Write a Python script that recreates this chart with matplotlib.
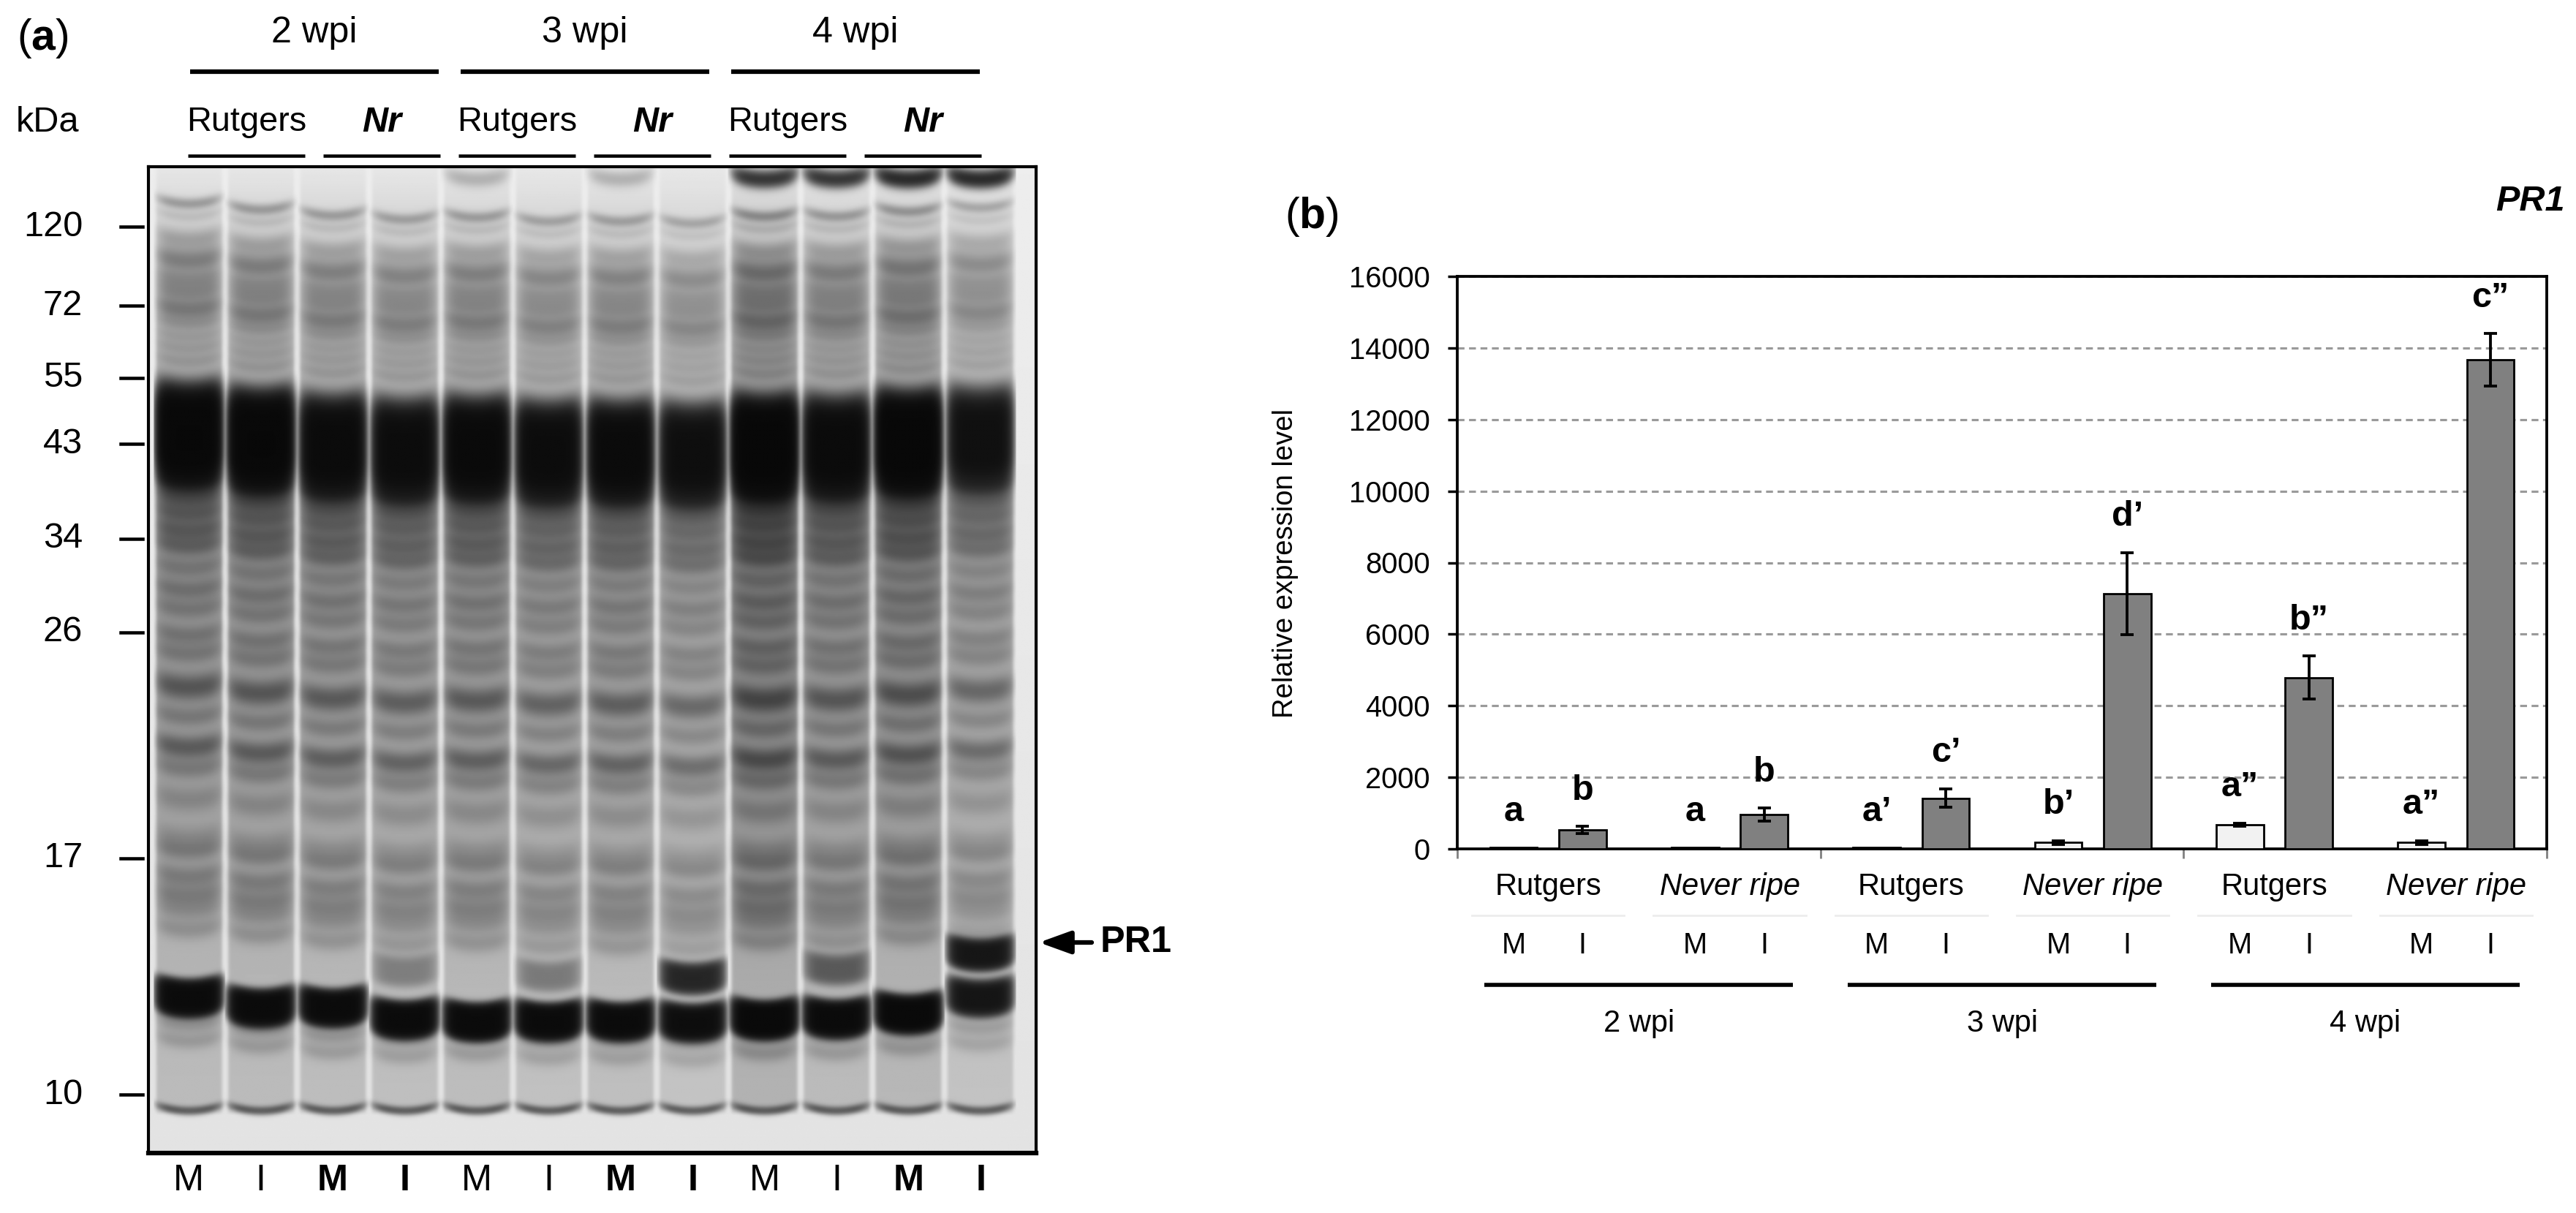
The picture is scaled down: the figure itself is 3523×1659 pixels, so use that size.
"""SDS-PAGE gel (a) and PR1 relative expression (b)."""
import matplotlib
matplotlib.use("Agg")
import matplotlib.pyplot as plt
import matplotlib.transforms as mtransforms
import numpy as np

plt.rcParams.update({
    "font.family": ["Liberation Sans", "DejaVu Sans"],
    "mathtext.fontset": "custom",
    "mathtext.rm": "Liberation Sans",
    "mathtext.bf": "Liberation Sans:bold",
    "mathtext.it": "Liberation Sans:italic",
})

W, H, DPI = 3523, 1659, 250

# ── panel (b) data: PR1 qRT-PCR ─────────────────────────────────────────────
weeks = ["2 wpi", "3 wpi", "4 wpi"]
genotypes = ["Rutgers", "Never ripe"]
treatments = ["M", "I"]
mock_mean = [40, 40, 40, 180, 680, 180]
mock_err = [0, 0, 0, 50, 40, 50]
inf_mean = [530, 960, 1420, 7130, 4790, 13670]
inf_err = [100, 180, 260, 1150, 600, 730]
mock_letters = ["a", "a", "a\u2019", "b\u2019", "a\u201d", "a\u201d"]
inf_letters = ["b", "b", "c\u2019", "d\u2019", "b\u201d", "c\u201d"]
yticks_b = [0, 2000, 4000, 6000, 8000, 10000, 12000, 14000, 16000]

# ── panel (a) data: Coomassie gel ───────────────────────────────────────────
gel_weeks = ["2 wpi", "3 wpi", "4 wpi"]
gel_genotypes = ["Rutgers", "Nr"]
lane_names = ["M", "I"] * 6
lane_bold = [False, False, True, True] * 3
marker_kda = ["120", "72", "55", "43", "34", "26", "17", "10"]
marker_rf = [0.061, 0.141, 0.214, 0.281, 0.377, 0.472, 0.701, 0.941]

# background smear of a loaded lane (relative migration -> darkness)
smear_rf = [0.0, 0.02, 0.06, 0.15, 0.22, 0.35, 0.5, 0.65, 0.75, 0.88, 0.955, 0.962, 1.0]
smear_dark = [0.03, 0.06, 0.13, 0.22, 0.32, 0.45, 0.42, 0.36, 0.28, 0.22, 0.2, 0.0, 0.0]

# bands shared by all lanes: position, strength, sharpness
band_rf = [0.045, 0.058, 0.081, 0.103, 0.120, 0.128, 0.136, 0.152, 0.168, 0.180,
           0.192, 0.205, 0.330, 0.345, 0.360, 0.377, 0.393, 0.415, 0.437, 0.457,
           0.483, 0.502, 0.536, 0.566, 0.597, 0.619, 0.650, 0.690, 0.703, 0.728,
           0.748, 0.763, 0.782, 0.878, 0.895]
band_amp = [0.35, 0.12, 0.25, 0.5, 0.25, 0.28, 0.25, 0.5, 0.18, 0.18,
            0.18, 0.18, 0.6, 0.55, 0.55, 0.55, 0.5, 0.3, 0.35, 0.3,
            0.32, 0.3, 0.65, 0.3, 0.6, 0.3, 0.22, 0.22, 0.28, 0.35,
            0.35, 0.22, 0.22, 0.25, 0.2]
band_sig = [0.004, 0.004, 0.007, 0.009, 0.005, 0.005, 0.005, 0.009, 0.005, 0.005,
            0.005, 0.005, 0.007, 0.007, 0.007, 0.007, 0.007, 0.007, 0.007, 0.007,
            0.007, 0.007, 0.009, 0.007, 0.008, 0.007, 0.009, 0.009, 0.007, 0.008,
            0.008, 0.007, 0.007, 0.006, 0.006]

# lane specific features
lane_load = [1.0, 1.0, 0.95, 0.9, 0.95, 0.85, 0.9, 0.78, 1.25, 1.0, 1.1, 0.8]
lane_shift = [-0.008, -0.002, 0.004, 0.008, 0.006, 0.01, 0.01, 0.012, 0.005, 0.005, 0.0, -0.004]
rbcl_rf = 0.281
rbcl_amp = [4.8, 4.8, 3.8, 3.5, 4.0, 3.5, 3.8, 3.2, 5.2, 3.8, 5.2, 3.0]
ssu_rf = [0.844, 0.854, 0.854, 0.866, 0.868, 0.868, 0.868, 0.869, 0.866, 0.865, 0.860, 0.844]
ssu_amp = [3.8, 3.8, 3.8, 3.8, 3.8, 3.8, 3.8, 3.4, 4.2, 3.8, 4.2, 2.6]
pr1_rf = [0.82, 0.82, 0.82, 0.817, 0.82, 0.822, 0.82, 0.824, 0.82, 0.815, 0.82, 0.80]
pr1_amp = [0.0, 0.0, 0.0, 0.4, 0.0, 0.45, 0.0, 1.8, 0.0, 0.75, 0.0, 2.5]
well_amp = [0.0, 0.0, 0.0, 0.0, 0.25, 0.0, 0.25, 0.0, 1.5, 1.5, 1.8, 1.8]
front_rf = 0.958

fig = plt.figure(figsize=(W / DPI, H / DPI), dpi=DPI)


def fig_box(x0, y0, x1, y1):
    return [x0 / W, 1 - y1 / H, (x1 - x0) / W, (y1 - y0) / H]


# ── Panel (a): gel ──────────────────────────────────────────────────────────
n_lanes = len(lane_names)
gel_x0, gel_x1 = -0.558, 11.766
ax_gel = fig.add_axes(fig_box(203, 228, 1417, 1577))

xs = np.linspace(gel_x0, gel_x1, 660)
ys = np.linspace(0, 1, 720)
dark = np.zeros((ys.size, xs.size))
for i in range(n_lanes):
    sel = np.abs(xs - i) < 0.5
    dx = xs[sel] - i
    wall = 1 / (1 + np.exp((np.abs(dx) - 0.455) / 0.012))
    body = np.exp(-(np.abs(dx) / 0.44) ** 6)
    bend = -0.006 * (dx / 0.45) ** 2
    col = (np.interp(ys, smear_rf, smear_dark) * lane_load[i])[:, None] * wall[None, :]

    # ordinary bands (gaussian), then the big flat-topped ones
    shapes = [(r + lane_shift[i], a * lane_load[i], s, 2)
              for r, a, s in zip(band_rf, band_amp, band_sig)]
    shapes += [(rbcl_rf + lane_shift[i], rbcl_amp[i], 0.04, 4),
               (ssu_rf[i], ssu_amp[i], 0.015, 4),
               (pr1_rf[i], pr1_amp[i], 0.013, 4),
               (0.012, well_amp[i], 0.006, 2),
               (front_rf, 0.8, 0.003, 2)]
    for r, a, s, p in shapes:
        if a <= 0:
            continue
        d = np.abs(ys[:, None] - (r + bend)[None, :]) / s
        col += a * np.exp(-0.5 * d ** p) * body[None, :]
    dark[:, sel] += col

bg = np.interp(ys, [0, 1], [0.9, 0.86])[:, None]
gray = bg * np.exp(-dark) + 0.03
ax_gel.imshow(gray, cmap="gray", vmin=0, vmax=1, aspect="auto",
              extent=(gel_x0, gel_x1, 1, 0), interpolation="bilinear")
ax_gel.set_xlim(gel_x0, gel_x1)
ax_gel.set_ylim(1, 0)
ax_gel.set_xticks([])
ax_gel.set_yticks([])
for side in ["left", "top", "right"]:
    ax_gel.spines[side].set_linewidth(1.2)
ax_gel.spines["bottom"].set_linewidth(1.8)

# marker ladder
ytrans = mtransforms.blended_transform_factory(ax_gel.transAxes, ax_gel.transData)
for lab, rf in zip(marker_kda, marker_rf):
    ax_gel.plot([-0.031, -0.0066], [rf, rf], color="black", lw=1.3,
                transform=ytrans, clip_on=False)
    ax_gel.text(-0.074, rf, lab, transform=ytrans, ha="right", va="center",
                fontsize=14)

# lane labels
xtrans = ax_gel.get_xaxis_transform()
for i, (name, bold) in enumerate(zip(lane_names, lane_bold)):
    ax_gel.text(i, -0.028, name, transform=xtrans, ha="center", va="center",
                fontsize=14.5, fontweight="bold" if bold else "normal")

# ── Panel (b): bar chart ────────────────────────────────────────────────────
ax = fig.add_axes(fig_box(1993, 378, 3483, 1161))
x = np.arange(len(inf_mean))
off, bw = 0.19, 0.26
ax.bar(x - off, mock_mean, bw, color="#f2f2f2", edgecolor="black", lw=0.8, zorder=3)
ax.bar(x + off, inf_mean, bw, color="#808080", edgecolor="black", lw=0.8, zorder=3)
for xi, m, e in zip(x - off, mock_mean, mock_err):
    if e > 0:
        ax.errorbar(xi, m, yerr=e, fmt="none", ecolor="black", elinewidth=1.1,
                    capsize=2.5, capthick=1.1, zorder=4)
for xi, m, e in zip(x + off, inf_mean, inf_err):
    ax.errorbar(xi, m, yerr=e, fmt="none", ecolor="black", elinewidth=1.1,
                capsize=2.5, capthick=1.1, zorder=4)

for xi, m, e, t in zip(x - off, mock_mean, mock_err, mock_letters):
    ax.text(xi, m + e + 1000, t, ha="center", va="center", fontsize=14,
            fontweight="bold")
for xi, m, e, t in zip(x + off, inf_mean, inf_err, inf_letters):
    ax.text(xi, m + e + 1000, t, ha="center", va="center", fontsize=14,
            fontweight="bold")

ax.set_xlim(-0.5, len(x) - 0.5)
ax.set_ylim(0, 16000)
ax.set_yticks(yticks_b)
ax.set_yticklabels([str(v) for v in yticks_b], fontsize=11.5)
ax.tick_params(axis="y", length=3.7, width=1.0, pad=7)
ax.set_xticks(np.arange(-0.5, len(x), 2))
ax.set_xticklabels([])
ax.tick_params(axis="x", length=3.8, width=0.8, color="#808080")
ax.yaxis.grid(True, linestyle=(0, (3, 2)), color="#9a9a9a", lw=0.9, zorder=0)
ax.set_axisbelow(True)
for side in ax.spines:
    ax.spines[side].set_linewidth(1.1)

btrans = ax.get_xaxis_transform()
for i in range(len(x)):
    g = genotypes[i % 2]
    ax.text(i, -0.066, g, transform=btrans, ha="center", va="center",
            fontsize=12, fontstyle="italic" if g == "Never ripe" else "normal")
    for xo, tr in zip([-off, off], treatments):
        ax.text(i + xo, -0.169, tr, transform=btrans, ha="center", va="center",
                fontsize=11.5)
    ax.plot([i - 0.42, i + 0.42], [-0.116, -0.116], transform=btrans,
            color="#ececec", lw=0.8, clip_on=False)
for k, wk in enumerate(weeks):
    c = 2 * k + 0.5
    ax.plot([c - 0.85, c + 0.85], [-0.2375, -0.2375], transform=btrans,
            color="black", lw=1.6, clip_on=False, solid_capstyle="butt")
    ax.text(c, -0.305, wk, transform=btrans, ha="center", va="center", fontsize=12)

# ── layout texts (figure pixel coordinates) ─────────────────────────────────
ov = fig.add_axes([0, 0, 1, 1], zorder=10)
ov.set_xlim(0, W)
ov.set_ylim(H, 0)
ov.axis("off")
ov.patch.set_alpha(0)

ov.text(23, 53, r"($\mathbf{a}$)", ha="left", va="center", fontsize=17)
ov.text(22, 167, "kDa", ha="left", va="center", fontsize=14)
pair_x0, pair_step = 337, 185
for k, wk in enumerate(gel_weeks):
    c = pair_x0 + pair_step * (2 * k + 0.5)
    ov.text(c, 45, wk, ha="center", va="center", fontsize=14.5)
    ov.plot([c - 170, c + 170], [98, 98], color="black", lw=1.8,
            solid_capstyle="butt")
for j in range(6):
    c = pair_x0 + pair_step * j
    g = gel_genotypes[j % 2]
    if g == "Nr":
        ov.text(c, 167, g, ha="center", va="center", fontsize=14,
                fontweight="bold", fontstyle="italic")
    else:
        ov.text(c, 167, g, ha="center", va="center", fontsize=13.5)
    ov.plot([c - 80, c + 80], [213, 213], color="black", lw=1.3,
            solid_capstyle="butt")

ov.annotate("", xy=(1421, 1289), xytext=(1493, 1289),
            arrowprops=dict(arrowstyle="-|>,head_length=1.05,head_width=0.38",
                            color="black", lw=1.8, shrinkA=0, shrinkB=0))
ov.text(1505, 1289, "PR1", ha="left", va="center", fontsize=14.5,
        fontweight="bold")

ov.text(1757, 297, r"($\mathbf{b}$)", ha="left", va="center", fontsize=17)
ov.text(3508, 275, "PR1", ha="right", va="center", fontsize=14,
        fontweight="bold", fontstyle="italic")
ov.text(1758, 770, "Relative expression level", ha="center", va="center",
        rotation=90, fontsize=11)

fig.savefig("out.png", dpi=DPI)
print("Saved out.png")
